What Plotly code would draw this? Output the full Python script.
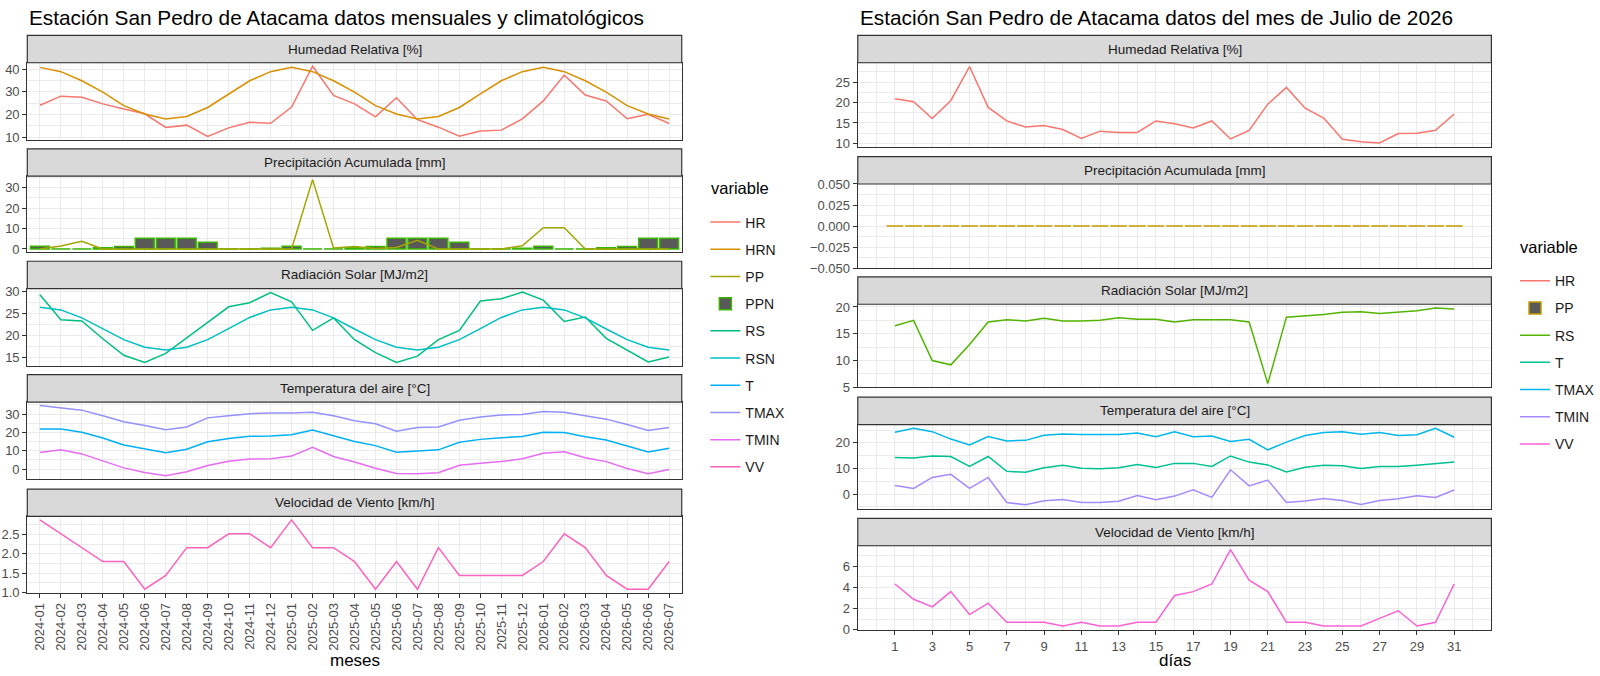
import plotly.graph_objects as go

W, H = 1600, 676

# ---- datos mensuales (panel izquierdo) ----
meses = ["2024-01", "2024-02", "2024-03", "2024-04", "2024-05", "2024-06", "2024-07", "2024-08",
         "2024-09", "2024-10", "2024-11", "2024-12", "2025-01", "2025-02", "2025-03", "2025-04",
         "2025-05", "2025-06", "2025-07", "2025-08", "2025-09", "2025-10", "2025-11", "2025-12",
         "2026-01", "2026-02", "2026-03", "2026-04", "2026-05", "2026-06", "2026-07"]

HR = [24.1, 28.1, 27.6, 24.7, 22.4, 20.3, 14.3, 15.3, 10.3, 14.1, 16.6, 16.1, 23.3, 41.3, 28.4, 24.7,
      19.0, 27.4, 17.7, 14.4, 10.4, 12.7, 13.1, 18.1, 26.0, 37.4, 28.6, 26.0, 18.1, 20.1, 16.0]
HRN = [40.8, 38.9, 34.9, 29.9, 23.9, 20.2, 18.0, 19.1, 23.1, 29.1, 34.9, 38.9, 40.8, 38.9, 34.9, 29.9,
       23.9, 20.2, 18.0, 19.1, 23.1, 29.1, 34.9, 38.9, 40.8, 38.9, 34.9, 29.9, 23.9, 20.2, 18.0]
PP = [0, 1.5, 3.8, 0, 0, 0, 0, 0, 0, 0, 0, 0, 0, 34.0, 0.5, 1.2,
      0.2, 0.7, 4.2, 0, 0, 0, 0, 1.6, 10.4, 10.4, 0, 0, 0, 0, 0]
PPN = [1.3, 0, 0, 0.6, 1.2, 5.2, 5.2, 5.2, 3.3, 0, 0, 0.3, 1.3, 0, 0, 0.6,
       1.2, 5.2, 5.2, 5.2, 3.3, 0, 0, 0.3, 1.3, 0, 0, 0.6, 1.2, 5.2, 5.2]
RS = [29.2, 23.6, 23.3, 19.3, 15.6, 14.0, 16.0, 19.4, 23.0, 26.5, 27.4, 29.7, 27.6, 21.2, 24.0, 19.1,
      16.2, 14.0, 15.4, 19.1, 21.2, 27.8, 28.3, 29.8, 28.0, 23.2, 24.2, 19.4, 16.7, 14.1, 15.2]
RSN = [26.4, 25.8, 24.0, 21.5, 19.1, 17.4, 16.8, 17.4, 19.1, 21.6, 24.1, 25.8, 26.4, 25.8, 24.0, 21.5,
       19.1, 17.4, 16.8, 17.4, 19.1, 21.6, 24.1, 25.8, 26.4, 25.8, 24.0, 21.5, 19.1, 17.4, 16.8]
T = [21.8, 21.8, 20.1, 16.9, 13.1, 11.0, 8.9, 10.8, 14.9, 16.7, 17.9, 18.1, 18.7, 21.3, 18.1, 15.1,
     12.8, 9.2, 9.9, 10.5, 14.6, 16.2, 17.1, 17.8, 20.1, 19.9, 17.6, 15.8, 12.6, 9.4, 11.4]
TMAX = [34.6, 33.4, 32.1, 29.1, 25.8, 23.8, 21.5, 22.9, 27.9, 29.0, 30.2, 30.6, 30.5, 30.9, 29.1, 26.3,
        24.7, 20.6, 22.6, 22.9, 26.6, 28.4, 29.5, 29.7, 31.4, 30.9, 29.1, 27.2, 24.3, 21.0, 22.7]
TMIN = [9.1, 10.5, 8.3, 4.4, 0.7, -1.8, -3.6, -1.4, 2.0, 4.3, 5.5, 5.7, 7.1, 11.9, 6.9, 3.9,
        0.5, -2.3, -2.5, -2.0, 2.1, 3.2, 4.1, 5.7, 8.7, 9.4, 6.2, 4.1, 0.4, -2.5, -0.2]
VV = [2.88, 2.52, 2.16, 1.80, 1.80, 1.08, 1.44, 2.16, 2.16, 2.52, 2.52, 2.16, 2.88, 2.16, 2.16, 1.80,
      1.08, 1.80, 1.08, 2.16, 1.44, 1.44, 1.44, 1.44, 1.80, 2.52, 2.16, 1.44, 1.08, 1.08, 1.80]

# ---- datos diarios julio 2026 (panel derecho) ----
dias = [1, 2, 3, 4, 5, 6, 7, 8, 9, 10, 11, 12, 13, 14, 15, 16,
        17, 18, 19, 20, 21, 22, 23, 24, 25, 26, 27, 28, 29, 30, 31]
HR_d = [20.9, 20.2, 16.1, 20.5, 28.8, 18.8, 15.5, 14.0, 14.4, 13.4, 11.2, 13.0, 12.7, 12.7, 15.5, 14.8,
        13.8, 15.5, 11.1, 13.2, 19.6, 23.7, 18.6, 16.2, 11.0, 10.4, 10.1, 12.4, 12.5, 13.2, 17.2]
PP_d = [0] * 31
RS_d = [16.5, 17.5, 10.0, 9.2, 13.0, 17.2, 17.6, 17.4, 17.9, 17.4, 17.4, 17.5, 18.0, 17.7, 17.7, 17.2,
        17.6, 17.6, 17.6, 17.2, 5.7, 18.1, 18.3, 18.6, 19.0, 19.1, 18.8, 19.1, 19.3, 19.8, 19.6]
T_d = [14.3, 14.1, 14.9, 14.7, 10.8, 14.7, 8.9, 8.5, 10.3, 11.3, 10.1, 9.9, 10.3, 11.6, 10.4, 12.0,
       12.0, 10.8, 14.9, 12.5, 11.4, 8.6, 10.5, 11.3, 11.1, 10.0, 10.8, 10.8, 11.3, 12.0, 12.5]
TMAX_d = [24.2, 25.7, 24.4, 21.5, 19.2, 22.5, 20.8, 21.0, 23.0, 23.5, 23.3, 23.2, 23.3, 23.9, 22.4, 24.4,
          22.4, 22.7, 20.6, 21.4, 17.3, 20.3, 22.9, 24.1, 24.4, 23.4, 24.1, 22.9, 23.2, 25.7, 22.2]
TMIN_d = [3.3, 2.2, 6.5, 7.7, 2.2, 6.5, -3.3, -4.2, -2.6, -2.1, -3.3, -3.3, -2.8, -0.6, -2.2, -0.8,
          1.7, -1.3, 9.5, 3.2, 5.5, -3.3, -2.7, -1.7, -2.5, -4.1, -2.5, -1.8, -0.7, -1.3, 1.6]
VV_d = [4.32, 2.88, 2.16, 3.60, 1.44, 2.52, 0.72, 0.72, 0.72, 0.36, 0.72, 0.36, 0.36, 0.72, 0.72, 3.24,
        3.60, 4.32, 7.56, 4.68, 3.60, 0.72, 0.72, 0.36, 0.36, 0.36, 1.08, 1.80, 0.36, 0.72, 4.32]

colors_izq = {"HR": "#F8766D", "HRN": "#D89000", "PP": "#A3A500", "PPN": "#39B600", "RS": "#00BF7D",
              "RSN": "#00BFC4", "T": "#00B0F6", "TMAX": "#9590FF", "TMIN": "#E76BF3", "VV": "#FF62BC"}
colors_der = {"HR": "#F8766D", "PP": "#C49A00", "RS": "#53B400", "T": "#00C094",
              "TMAX": "#00B6EB", "TMIN": "#A58AFF", "VV": "#FB61D7"}

titulos = ["Humedad Relativa [%]", "Precipitación Acumulada [mm]", "Radiación Solar [MJ/m2]",
           "Temperatura del aire [°C]", "Velocidad de Viento [km/h]"]

FONT = "Liberation Sans, Arial, sans-serif"
GRID = "#EBEBEB"
DARK = "#333333"

# posiciones en pixeles de los paneles (izq / der)
left_x = (27.4, 684.3)
right_x = (861, 1497)
left_rows = [(57, 136), (173, 251), (288, 367), (404, 483), (521, 599)]
right_rows = [(57, 143), (181, 267), (304, 389), (427, 513), (551, 637)]
STRIP = 28


def expand(vals, zero=False):
    # mismo margen que ggplot (5% del rango)
    lo, hi = min(vals), max(vals)
    if zero:
        lo, hi = min(lo, 0), max(hi, 0)
    if hi == lo:
        return [lo - 0.05, hi + 0.05]
    d = (hi - lo) * 0.05
    return [lo - d, hi + d]


fig = go.Figure()


def line(x, y, name, color, ax, legend, rank):
    fig.add_trace(go.Scatter(x=x, y=y, mode="lines", name=name, line=dict(color=color, width=1.5),
                             xaxis="x" + ax, yaxis="y" + ax, legend=legend, legendgroup=legend + name,
                             legendrank=rank, hoverinfo="x+y+name"))


def bars(x, y, name, color, ax, legend, rank):
    fig.add_trace(go.Bar(x=x, y=y, name=name, width=0.9, marker=dict(color="#595959",
                         line=dict(color=color, width=1.5)), xaxis="x" + ax, yaxis="y" + ax,
                         legend=legend, legendgroup=legend + name, legendrank=rank))


lg1, lg2 = "legend", "legend2"
c = colors_izq
line(meses, HR, "HR", c["HR"], "", lg1, 1)
line(meses, HRN, "HRN", c["HRN"], "", lg1, 2)
bars(meses, PPN, "PPN", c["PPN"], "2", lg1, 4)
line(meses, PP, "PP", c["PP"], "2", lg1, 3)
line(meses, RS, "RS", c["RS"], "3", lg1, 5)
line(meses, RSN, "RSN", c["RSN"], "3", lg1, 6)
line(meses, T, "T", c["T"], "4", lg1, 7)
line(meses, TMAX, "TMAX", c["TMAX"], "4", lg1, 8)
line(meses, TMIN, "TMIN", c["TMIN"], "4", lg1, 9)
line(meses, VV, "VV", c["VV"], "5", lg1, 10)

c = colors_der
line(dias, HR_d, "HR", c["HR"], "6", lg2, 1)
bars(dias, PP_d, "PP", c["PP"], "7", lg2, 2)
line(dias, RS_d, "RS", c["RS"], "8", lg2, 3)
line(dias, T_d, "T", c["T"], "9", lg2, 4)
line(dias, TMAX_d, "TMAX", c["TMAX"], "9", lg2, 5)
line(dias, TMIN_d, "TMIN", c["TMIN"], "9", lg2, 6)
line(dias, VV_d, "VV", c["VV"], "10", lg2, 7)

yr_izq = [expand(HR + HRN), expand(PP + PPN, zero=True), expand(RS + RSN),
          expand(T + TMAX + TMIN), expand(VV)]
yr_der = [expand(HR_d), expand(PP_d), expand(RS_d), expand(T_d + TMAX_d + TMIN_d), expand(VV_d)]
dt_izq = [10, 10, 5, 10, 0.5]
dt_der = [5, 0.025, 5, 10, 2]
fmt_izq = ["", "", "", "", ".1f"]
fmt_der = ["", ".3f", "", "", ""]

tickfont = dict(family=FONT, size=13, color="#4D4D4D")
layout = {}
shapes, annots = [], []


def axes(i, xd, row, yrange, dt, fmt, left_col):
    key = "" if i == 1 else str(i)
    top, bot = row
    xa = dict(domain=[xd[0] / W, xd[1] / W], anchor="y" + key, showline=True, mirror=True,
              linecolor=DARK, linewidth=1.2, showgrid=True, gridcolor=GRID, gridwidth=1.1,
              zeroline=False, ticks="outside", ticklen=4, tickcolor=DARK, tickfont=tickfont)
    last = row == (left_rows[-1] if left_col else right_rows[-1])
    if left_col:
        xa.update(type="category", categoryorder="array", categoryarray=meses, tickmode="array",
                  tickvals=meses, tickangle=-90, range=[-0.6, len(meses) - 0.4])
        if i != 1:
            xa["matches"] = "x"
    else:
        xa.update(range=[-0.995, 32.995], tickmode="array", tickvals=dias[::2],
                  minor=dict(dtick=1, tick0=0, showgrid=True, gridcolor=GRID, gridwidth=0.6))
        if i != 6:
            xa["matches"] = "x6"
    if not last:
        xa.update(showticklabels=False, ticks="")
    ya = dict(domain=[1 - bot / H, 1 - top / H], anchor="x" + key, range=yrange, showline=True,
              mirror=True, linecolor=DARK, linewidth=1.2, showgrid=True, gridcolor=GRID, gridwidth=1.1,
              zeroline=False, ticks="outside", ticklen=4, tickcolor=DARK, tickfont=tickfont,
              tickmode="linear", tick0=0, dtick=dt, tickformat=fmt,
              minor=dict(dtick=dt / 2, tick0=0, showgrid=True, gridcolor=GRID, gridwidth=0.6))
    layout["xaxis" + key] = xa
    layout["yaxis" + key] = ya
    # franja gris con el nombre de la variable (facet strip)
    shapes.append(dict(type="rect", xref="paper", yref="paper", x0=xd[0] / W, x1=xd[1] / W,
                       y0=1 - top / H, y1=1 - (top - STRIP) / H, fillcolor="#D9D9D9",
                       line=dict(color=DARK, width=1.2), layer="above"))


def texto(t, xpx, ypx, size, color="black", xanchor="center"):
    annots.append(dict(text=t, x=xpx / W, y=1 - ypx / H, xref="paper", yref="paper",
                       xanchor=xanchor, yanchor="middle", showarrow=False,
                       font=dict(family=FONT, size=size, color=color)))


for k in range(5):
    axes(k + 1, left_x, left_rows[k], yr_izq[k], dt_izq[k], fmt_izq[k], True)
    texto(titulos[k], sum(left_x) / 2, left_rows[k][0] - STRIP / 2, 13.5, "#1A1A1A")
for k in range(5):
    axes(k + 6, right_x, right_rows[k], yr_der[k], dt_der[k], fmt_der[k], False)
    texto(titulos[k], sum(right_x) / 2, right_rows[k][0] - STRIP / 2, 13.5, "#1A1A1A")

# titulos y nombres de ejes
texto("Estación San Pedro de Atacama datos mensuales y climatológicos", left_x[0], 10.5, 20.8,
      xanchor="left")
texto("Estación San Pedro de Atacama datos del mes de Julio de 2026", right_x[0], 10.5, 20.8,
      xanchor="left")
texto("meses", sum(left_x) / 2, 668.5, 17)
texto("días", sum(right_x) / 2, 668.5, 17)
texto("variable", 712, 185, 16.5, xanchor="left")
texto("variable", 1524, 245, 16.5, xanchor="left")

legfont = dict(family=FONT, size=14, color="#1A1A1A")
layout["legend"] = dict(x=708 / W, y=1 - 204 / H, xanchor="left", yanchor="top", font=legfont,
                        tracegroupgap=6, bgcolor="rgba(0,0,0,0)")
layout["legend2"] = dict(x=1521 / W, y=1 - 264 / H, xanchor="left", yanchor="top", font=legfont,
                         tracegroupgap=6, bgcolor="rgba(0,0,0,0)")

fig.update_layout(**layout)
fig.update_layout(width=W, height=H, margin=dict(l=0, r=0, t=0, b=0), plot_bgcolor="white",
                  paper_bgcolor="white", shapes=shapes, annotations=annots, showlegend=True,
                  bargap=0.1, font=dict(family=FONT))

fig.write_html("out.html", post_script="document.body.style.margin='0px';",
               config={"displayModeBar": False})
